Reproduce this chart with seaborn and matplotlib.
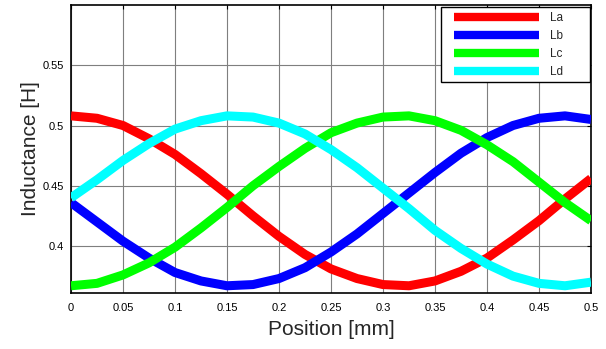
import numpy as np
import pandas as pd
import matplotlib
matplotlib.use("Agg")
import matplotlib.pyplot as plt
import seaborn as sns
from matplotlib.ticker import FixedLocator, FormatStrFormatter
from matplotlib.patches import Rectangle

position = [0.0, 0.025, 0.05, 0.075, 0.1, 0.125, 0.15, 0.175, 0.2, 0.225, 0.25,
            0.275, 0.3, 0.325, 0.35, 0.375, 0.4, 0.425, 0.45, 0.475, 0.5]
La = [0.508, 0.506, 0.500, 0.489, 0.476, 0.460, 0.443, 0.425, 0.408, 0.393, 0.381,
      0.373, 0.368, 0.367, 0.371, 0.379, 0.390, 0.405, 0.421, 0.439, 0.456]
Lb = [0.436, 0.420, 0.404, 0.390, 0.378, 0.371, 0.367, 0.368, 0.373, 0.382, 0.395,
      0.410, 0.427, 0.444, 0.461, 0.477, 0.490, 0.500, 0.506, 0.508, 0.505]
Lc = [0.367, 0.369, 0.376, 0.386, 0.399, 0.415, 0.432, 0.450, 0.466, 0.481, 0.494,
      0.502, 0.507, 0.508, 0.504, 0.496, 0.484, 0.470, 0.453, 0.436, 0.421]
Ld = [0.440, 0.455, 0.471, 0.485, 0.497, 0.504, 0.508, 0.507, 0.502, 0.493, 0.480,
      0.465, 0.448, 0.431, 0.413, 0.398, 0.385, 0.375, 0.369, 0.367, 0.370]
series_names = ["La", "Lb", "Lc", "Ld"]
colors = ["#ff0000", "#0000ff", "#00ff00", "#00ffff"]
x_ticks = [0, 0.05, 0.1, 0.15, 0.2, 0.25, 0.3, 0.35, 0.4, 0.45, 0.5]
y_ticks = [0.4, 0.45, 0.5, 0.55]

df = pd.concat([
    pd.DataFrame({"Position": position, "Inductance": vals, "series": name})
    for name, vals in zip(series_names, [La, Lb, Lc, Ld])
])

sns.set_style("white")
plt.rcParams['font.family'] = ['Liberation Sans', 'DejaVu Sans']

fig = plt.figure(figsize=(6.06, 3.49), dpi=100)
ax = fig.add_axes([71/606, 56/349, 520/606, 288/349])

sns.lineplot(data=df, x="Position", y="Inductance", hue="series",
             palette=dict(zip(series_names, colors)), linewidth=6.5,
             ax=ax, solid_capstyle="butt", solid_joinstyle="round", zorder=3)

ax.set_xlim(0, 0.5)
ax.set_ylim(0.361, 0.6)
ax.xaxis.set_major_locator(FixedLocator(x_ticks))
ax.yaxis.set_major_locator(FixedLocator(y_ticks))
ax.xaxis.set_major_formatter(FormatStrFormatter('%g'))
ax.yaxis.set_major_formatter(FormatStrFormatter('%g'))
ax.grid(True, color="#7f7f7f", linewidth=0.8, zorder=0)
ax.set_axisbelow(True)
ax.tick_params(direction="in", length=3, width=0.8, top=True, right=True,
               labelsize=8, colors="black")
ax.tick_params(axis="x", pad=7)
ax.tick_params(axis="y", pad=5)
for sp in ax.spines.values():
    sp.set_color("black")
    sp.set_linewidth(1.2)

ax.set_xlabel("Position [mm]", fontsize=15, labelpad=5)
ax.set_ylabel("Inductance [H]", fontsize=15, labelpad=2)

# legend box (frame drawn separately to match the reference padding)
x0, x1 = (441 - 71) / 520, (590 - 71) / 520
y0, y1 = (293 - 82) / 288, (293 - 7) / 288
ax.add_patch(Rectangle((x0, y0), x1 - x0, y1 - y0, transform=ax.transAxes,
                       facecolor="white", edgecolor="black", linewidth=1.0,
                       zorder=5))
leg = ax.legend(loc="upper left", bbox_to_anchor=(x0 + 0.018, y1 - 0.004),
                fontsize=8.5, handlelength=7.2, frameon=False,
                borderaxespad=0.0, handletextpad=0.9, labelspacing=0.52,
                borderpad=0.3)
leg.set_zorder(6)
for line in leg.get_lines():
    line.set_linewidth(6)
    line.set_solid_capstyle("butt")

fig.savefig("out.png", dpi=100)
